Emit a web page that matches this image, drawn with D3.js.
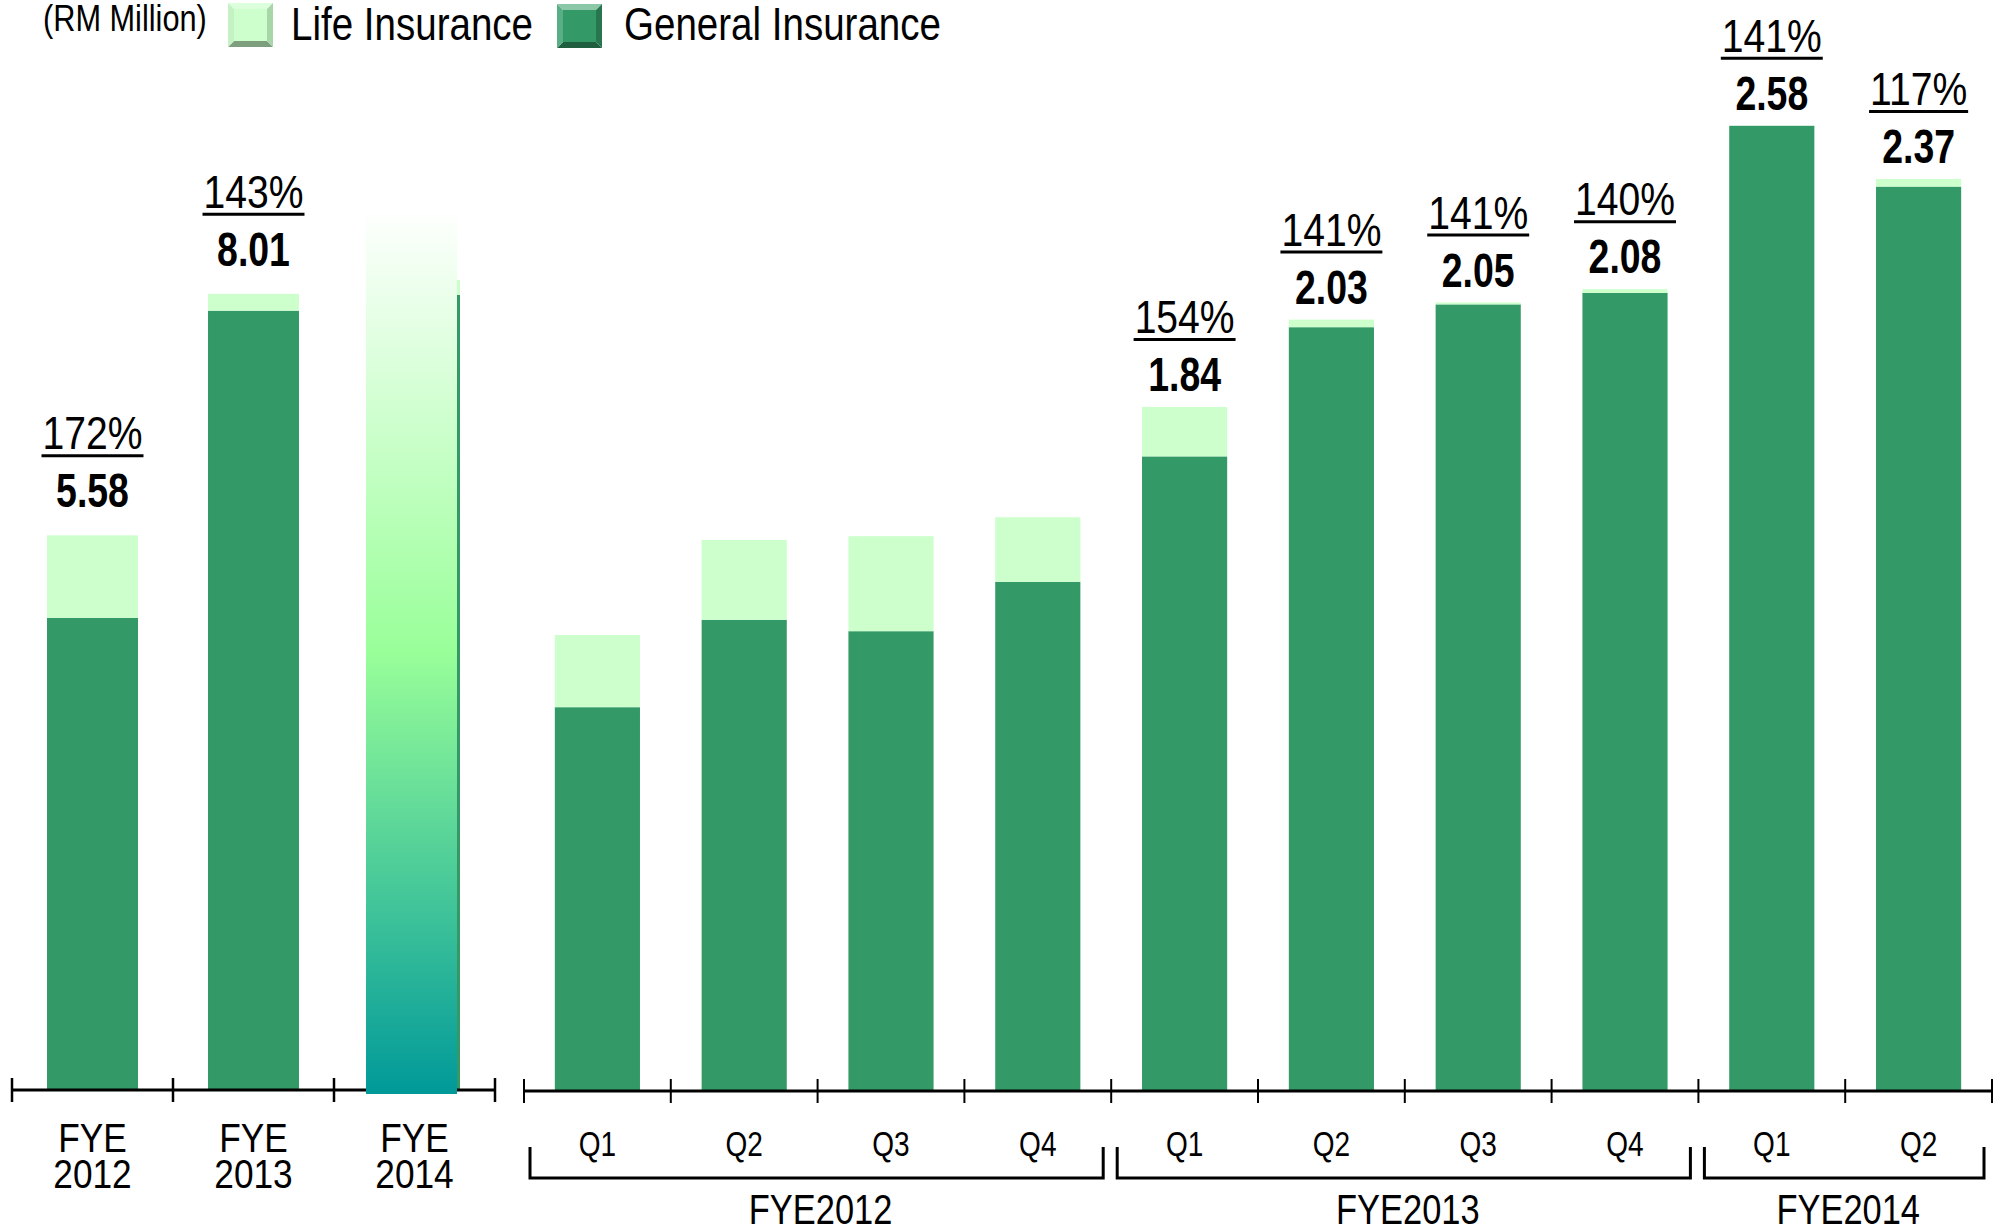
<!DOCTYPE html>
<html>
<head>
<meta charset="utf-8">
<script src="https://cdn.jsdelivr.net/npm/d3@7"></script>
<style>
  html, body { margin: 0; padding: 0; background: #ffffff; }
  svg { display: block; }
  text { font-family: 'Liberation Sans', Arial, Helvetica, sans-serif; fill: #000; }
</style>
</head>
<body>
<svg id="chart" width="2007" height="1230"></svg>
<script>
// ---------------- data ----------------
const unitLabel = "(RM Million)";
const seriesNames = ["Life Insurance", "General Insurance"];

// annual panel
const annualCats = ["FYE 2012", "FYE 2013", "FYE 2014"];
const annualGeneral = [4.75, 7.84, 8.00];
const annualLife = [0.83, 0.17, 0.15];
const annualPct = ["172%", "143%", ""];
const annualTotals = ["5.58", "8.01", ""];
const projectedCat = "FYE 2014";   // covered by gradient overlay
const projectedTop = 8.88;          // overlay extent (value units)

// quarterly panel
const quarterCats = ["Q1", "Q2", "Q3", "Q4", "Q1", "Q2", "Q3", "Q4", "Q1", "Q2"];
const quarterYears = ["FYE2012", "FYE2012", "FYE2012", "FYE2012",
                      "FYE2013", "FYE2013", "FYE2013", "FYE2013",
                      "FYE2014", "FYE2014"];
const quarterGeneral = [1.01, 1.24, 1.21, 1.34, 1.67, 2.01, 2.07, 2.10, 2.54, 2.38];
const quarterLife = [0.19, 0.21, 0.25, 0.17, 0.13, 0.02, 0.005, 0.01, 0.0, 0.02];
const quarterPct = ["", "", "", "", "154%", "141%", "141%", "140%", "141%", "117%"];
const quarterTotals = ["", "", "", "", "1.84", "2.03", "2.05", "2.08", "2.58", "2.37"];

// ---------------- styles ----------------
const C_GEN = "#339966";
const C_LIFE = "#ccffcc";
const svg = d3.select("#chart");

const defs = svg.append("defs");
const grad = defs.append("linearGradient").attr("id", "proj")
  .attr("x1", 0).attr("y1", 0).attr("x2", 0).attr("y2", 1);
grad.append("stop").attr("offset", "0%").attr("stop-color", "#ffffff");
grad.append("stop").attr("offset", "50%").attr("stop-color", "#99ff99");
grad.append("stop").attr("offset", "100%").attr("stop-color", "#009999");

// ---------------- scales ----------------
const xL = d3.scaleBand().domain(annualCats).range([12, 495]).paddingInner(0.435).paddingOuter(0.2175);
const yL = d3.scaleLinear().domain([0, 8]).range([1090, 1090 - 795.2]);
const qIdx = d3.range(quarterCats.length);
const xR = d3.scaleBand().domain(qIdx).range([524, 1992]).paddingInner(0.42).paddingOuter(0.21);
const yR = d3.scaleLinear().domain([0, 2.5]).range([1091, 141]);

// ---------------- helpers ----------------
function label(g, x, y, str, size, weight, k, anchor) {
  const t = g.append("text")
    .attr("transform", `translate(${x},${y}) scale(${k},1)`)
    .attr("text-anchor", anchor || "middle")
    .style("font-size", size + "px")
    .style("font-weight", weight)
    .text(str);
  return t.node().getComputedTextLength() * k;
}

function stackedBars(g, cats, xs, ys, gen, life) {
  const d = cats.map((c, i) => ({ c, gen: gen[i], life: life[i] }));
  g.selectAll(null).data(d).enter().append("rect")
    .attr("x", v => xs(v.c)).attr("width", xs.bandwidth())
    .attr("y", v => ys(v.gen)).attr("height", v => ys(0) - ys(v.gen))
    .attr("fill", C_GEN);
  g.selectAll(null).data(d).enter().append("rect")
    .attr("x", v => xs(v.c)).attr("width", xs.bandwidth())
    .attr("y", v => ys(v.gen + v.life)).attr("height", v => ys(v.gen) - ys(v.gen + v.life))
    .attr("fill", C_LIFE);
}

function axisWithTicks(g, xs, y0, tickUp, tickDown, tickW) {
  const [r0, r1] = xs.range();
  g.append("line").attr("x1", r0).attr("x2", r1).attr("y1", y0).attr("y2", y0)
    .attr("stroke", "#000").attr("stroke-width", 3);
  const n = xs.domain().length;
  for (let i = 0; i <= n; i++) {
    const x = r0 + i * xs.step();
    g.append("line").attr("x1", x).attr("x2", x).attr("y1", y0 - tickUp).attr("y2", y0 + tickDown)
      .attr("stroke", "#000").attr("stroke-width", tickW);
  }
}

function topLabels(g, cats, xs, ys, gen, life, pct, totals, gap) {
  cats.forEach((c, i) => {
    if (!totals[i]) return;
    const cx = xs(c) + xs.bandwidth() / 2;
    const vb = ys(gen[i] + life[i]) - gap;
    label(g, cx, vb, totals[i], 48, "bold", 0.78);
    const pb = vb - 58;
    const w = label(g, cx, pb, pct[i], 46, "normal", 0.85);
    g.append("line").attr("x1", cx - w / 2 - 1).attr("x2", cx + w / 2 + 1)
      .attr("y1", pb + 6.5).attr("y2", pb + 6.5)
      .attr("stroke", "#000").attr("stroke-width", 3);
  });
}

// ---------------- annual panel ----------------
const gL = svg.append("g");
stackedBars(gL, annualCats, xL, yL, annualGeneral, annualLife);
axisWithTicks(gL, xL, yL(0), 12, 12, 2.5);
// gradient overlay for the projected year
gL.append("rect")
  .attr("x", xL(projectedCat) - 3).attr("width", xL.bandwidth())
  .attr("y", yL(projectedTop)).attr("height", yL(0) + 4 - yL(projectedTop))
  .attr("fill", "url(#proj)");
topLabels(gL, annualCats, xL, yL, annualGeneral, annualLife, annualPct, annualTotals, 28);
annualCats.forEach(c => {
  const cx = xL(c) + xL.bandwidth() / 2;
  const parts = c.split(" ");
  label(gL, cx, 1152, parts[0], 41, "normal", 0.86);
  label(gL, cx, 1188, parts[1], 41, "normal", 0.86);
});

// ---------------- quarterly panel ----------------
const gR = svg.append("g");
stackedBars(gR, qIdx, xR, yR, quarterGeneral, quarterLife);
axisWithTicks(gR, xR, yR(0), 12, 12, 2);
topLabels(gR, qIdx, xR, yR, quarterGeneral, quarterLife, quarterPct, quarterTotals, 16);
qIdx.forEach(i => {
  label(gR, xR(i) + xR.bandwidth() / 2, 1156, quarterCats[i], 35, "normal", 0.8);
});
// year brackets
const years = Array.from(new Set(quarterYears));
years.forEach(yr => {
  const idx = qIdx.filter(i => quarterYears[i] === yr);
  const r0 = xR.range()[0];
  const xa = r0 + idx[0] * xR.step() + 6;
  const xb = r0 + (idx[idx.length - 1] + 1) * xR.step() - 8;
  gR.append("path")
    .attr("d", `M${xa},1147 V1178 H${xb} V1147`)
    .attr("fill", "none").attr("stroke", "#000").attr("stroke-width", 3);
  label(gR, (xa + xb) / 2 + 4, 1224, yr, 42, "normal", 0.82);
});

// ---------------- legend ----------------
const gLeg = svg.append("g");
label(gLeg, 43, 31, unitLabel, 37, "normal", 0.83, "start");

function swatch(x, y, w, h, b, face, top, bottom, left, right) {
  const p = (pts) => gLeg.append("polygon").attr("points", pts.map(q => q.join(",")).join(" "));
  p([[x, y], [x + w, y], [x + w - b, y + b], [x + b, y + b]]).attr("fill", top);
  p([[x, y + h], [x + w, y + h], [x + w - b, y + h - b], [x + b, y + h - b]]).attr("fill", bottom);
  p([[x, y], [x + b, y + b], [x + b, y + h - b], [x, y + h]]).attr("fill", left);
  p([[x + w, y], [x + w - b, y + b], [x + w - b, y + h - b], [x + w, y + h]]).attr("fill", right);
  gLeg.append("rect").attr("x", x + b).attr("y", y + b).attr("width", w - 2 * b).attr("height", h - 2 * b).attr("fill", face);
}
swatch(228, 3, 45, 44, 6, C_LIFE, "#dcffdc", "#7d9f7d", "#c4f2c4", "#a9d6a9");
label(gLeg, 291, 40, seriesNames[0], 47, "normal", 0.82, "start");
swatch(557, 4, 45, 44, 6, C_GEN, "#8cc7a8", "#1f5f3f", "#5aae85", "#287650");
label(gLeg, 624, 40, seriesNames[1], 47, "normal", 0.82, "start");
</script>
</body>
</html>
